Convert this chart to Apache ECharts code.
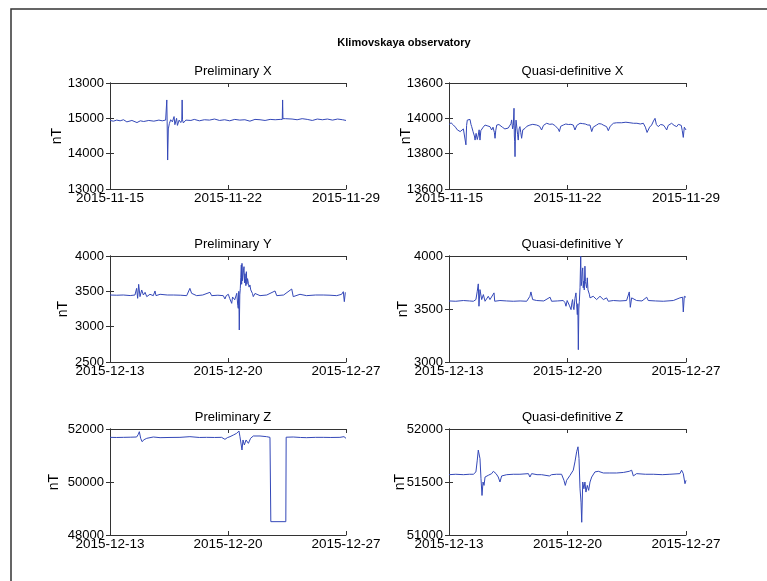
<!DOCTYPE html>
<html>
<head>
<meta charset="utf-8">
<script src="https://cdn.jsdelivr.net/npm/echarts@6/dist/echarts.min.js"></script>
<style>html,body{margin:0;padding:0;background:#fff}#c{width:767px;height:581px}</style>
</head>
<body>
<div id="c"></div>
<script>
// ---- Data (time in days from the first tick, value in nT) ----
var mainTitle = 'Klimovskaya observatory';
var plotTitles = ['Preliminary X', 'Quasi-definitive X', 'Preliminary Y', 'Quasi-definitive Y', 'Preliminary Z', 'Quasi-definitive Z'];
var novDates = ['2015-11-15', '2015-11-22', '2015-11-29'];
var decDates = ['2015-12-13', '2015-12-20', '2015-12-27'];

// y tick labels (bottom to top) as printed in the figure
var pxTicks = ['13000', '14000', '15000', '13000'];
var qxTicks = ['13600', '13800', '14000', '13600'];
var pyTicks = ['2500', '3000', '3500', '4000'];
var qyTicks = ['3000', '3500', '4000'];
var pzTicks = ['48000', '50000', '52000'];
var qzTicks = ['51000', '51500', '52000'];

// Preliminary X
var pxT = [0, 0.2, 0.4, 0.6, 0.8, 1.0, 1.1, 1.3, 1.6, 1.8, 2.0, 2.3, 2.6, 2.9, 3.1, 3.3, 3.35, 3.37, 3.39, 3.42, 3.46, 3.52, 3.6, 3.7, 3.8, 3.85, 3.95, 4.0, 4.1, 4.2, 4.26, 4.28, 4.30, 4.35, 4.5, 4.8, 5.0, 5.3, 5.6, 5.9, 6.2, 6.5, 6.8, 7.1, 7.4, 7.7, 8.0, 8.3, 8.6, 8.9, 9.2, 9.5, 9.8, 10.1, 10.22, 10.24, 10.26, 10.4, 10.8, 11.1, 11.4, 11.7, 12.0, 12.3, 12.6, 12.9, 13.2, 13.5, 13.8, 14.0];
var pxV = [14940, 14920, 14950, 14930, 14960, 14900, 14950, 14940, 14880, 14930, 14910, 14940, 14920, 14950, 14930, 14950, 14950, 15520, 14900, 13820, 14700, 14850, 14960, 14900, 15050, 14820, 15000, 14800, 14950, 14880, 14950, 15520, 14960, 14870, 14950, 14940, 14970, 14930, 14960, 14950, 14980, 14940, 14960, 14930, 14970, 14950, 14960, 14920, 14970, 14960, 14940, 14970, 14960, 14970, 14970, 15520, 14990, 14990, 14980, 14960, 14990, 14970, 14940, 14980, 14960, 14980, 14950, 14980, 14960, 14940];

// Quasi-definitive X
var qxT = [0, 0.12, 0.26, 0.38, 0.49, 0.58, 0.66, 0.75, 0.85, 0.95, 1.0, 1.04, 1.08, 1.16, 1.24, 1.30, 1.34, 1.42, 1.50, 1.54, 1.60, 1.67, 1.72, 1.78, 1.83, 1.88, 1.93, 2.02, 2.13, 2.25, 2.35, 2.42, 2.52, 2.60, 2.68, 2.72, 2.76, 2.82, 2.95, 3.05, 3.15, 3.21, 3.30, 3.41, 3.5, 3.6, 3.66, 3.70, 3.76, 3.80, 3.84, 3.86, 3.88, 3.90, 3.93, 3.96, 4.0, 4.05, 4.09, 4.14, 4.19, 4.24, 4.29, 4.36, 4.49, 4.6, 4.78, 4.95, 5.18, 5.35, 5.47, 5.58, 5.77, 5.95, 6.1, 6.25, 6.36, 6.45, 6.52, 6.6, 6.75, 6.9, 7.05, 7.2, 7.34, 7.44, 7.55, 7.74, 7.9, 8.05, 8.2, 8.33, 8.43, 8.52, 8.72, 8.85, 9.0, 9.15, 9.31, 9.41, 9.52, 9.71, 9.9, 10.2, 10.45, 10.69, 10.9, 11.1, 11.3, 11.48, 11.6, 11.7, 11.77, 11.85, 11.97, 12.08, 12.17, 12.25, 12.36, 12.5, 12.66, 12.76, 12.86, 12.95, 13.15, 13.3, 13.45, 13.55, 13.64, 13.72, 13.78, 13.84, 13.9, 14.0];
var qxV = [13965, 13975, 13962, 13950, 13935, 13945, 13925, 13935, 13940, 13930, 13850, 13960, 13990, 13980, 13994, 13965, 13953, 13925, 13900, 13877, 13915, 13880, 13900, 13935, 13877, 13930, 13925, 13950, 13962, 13958, 13965, 13953, 13934, 13950, 13920, 13887, 13930, 13962, 13965, 13960, 13950, 13953, 13940, 13934, 13945, 13943, 13970, 13991, 13940, 13960, 14057, 13900, 13870, 13783, 13940, 13990, 13991, 13910, 13877, 13940, 13953, 13920, 13887, 13935, 13943, 13955, 13962, 13966, 13962, 13955, 13934, 13960, 13972, 13966, 13968, 13960, 13962, 13940, 13925, 13955, 13962, 13968, 13965, 13966, 13962, 13934, 13960, 13972, 13970, 13968, 13962, 13962, 13925, 13950, 13962, 13970, 13968, 13960, 13953, 13930, 13955, 13972, 13975, 13975, 13978, 13975, 13972, 13972, 13968, 13972, 13950, 13920, 13911, 13950, 13962, 13985, 14000, 13965, 13953, 13965, 13962, 13950, 13934, 13960, 13972, 13960, 13953, 13966, 13975, 13960, 13930, 13892, 13950, 13934];

// Preliminary Y
var pyT = [0, 0.4, 0.79, 1.2, 1.48, 1.58, 1.64, 1.70, 1.78, 1.88, 1.98, 2.08, 2.18, 2.37, 2.57, 2.67, 2.73, 2.97, 3.4, 3.76, 4.2, 4.55, 4.74, 4.84, 5.14, 5.5, 5.93, 6.03, 6.4, 6.72, 6.82, 6.9, 7.02, 7.1, 7.22, 7.27, 7.32, 7.40, 7.47, 7.52, 7.55, 7.58, 7.61, 7.64, 7.67, 7.70, 7.73, 7.76, 7.79, 7.81, 7.83, 7.86, 7.89, 7.92, 7.95, 7.98, 8.01, 8.03, 8.06, 8.09, 8.12, 8.16, 8.21, 8.25, 8.30, 8.35, 8.40, 8.45, 8.50, 8.6, 8.70, 8.90, 9.3, 9.79, 9.89, 10.3, 10.78, 10.87, 11.27, 11.66, 12.2, 12.65, 13.05, 13.45, 13.74, 13.84, 13.90, 13.96, 14.0];
var pyV = [3448, 3445, 3448, 3440, 3448, 3542, 3401, 3599, 3425, 3519, 3448, 3486, 3425, 3458, 3439, 3505, 3439, 3458, 3448, 3448, 3445, 3439, 3542, 3472, 3439, 3448, 3486, 3439, 3445, 3439, 3392, 3440, 3458, 3400, 3330, 3420, 3425, 3380, 3354, 3472, 3472, 3300, 3259, 3500, 2953, 3450, 3542, 3700, 3873, 3600, 3896, 3650, 3637, 3800, 3849, 3620, 3750, 3684, 3580, 3778, 3600, 3680, 3613, 3560, 3590, 3520, 3495, 3470, 3425, 3470, 3458, 3439, 3448, 3505, 3439, 3448, 3533, 3425, 3458, 3439, 3448, 3448, 3445, 3439, 3458, 3495, 3354, 3486, 3486];

// Quasi-definitive Y
var qyT = [0, 0.4, 0.85, 1.2, 1.44, 1.59, 1.67, 1.73, 1.77, 1.83, 1.93, 2.03, 2.13, 2.32, 2.42, 2.66, 2.70, 3.01, 3.4, 3.80, 4.2, 4.59, 4.78, 4.84, 4.94, 5.18, 5.6, 5.97, 6.06, 6.4, 6.75, 6.85, 6.91, 6.98, 7.05, 7.12, 7.21, 7.26, 7.30, 7.34, 7.38, 7.44, 7.50, 7.54, 7.58, 7.61, 7.64, 7.67, 7.70, 7.74, 7.78, 7.81, 7.84, 7.87, 7.90, 7.93, 7.96, 7.99, 8.03, 8.06, 8.09, 8.13, 8.17, 8.21, 8.25, 8.29, 8.33, 8.40, 8.52, 8.72, 8.92, 9.12, 9.31, 9.41, 9.71, 10.1, 10.49, 10.65, 10.71, 10.79, 11.08, 11.4, 11.68, 11.77, 12.2, 12.66, 13.25, 13.64, 13.80, 13.84, 13.90, 14.0];
var qyV = [3576, 3573, 3580, 3576, 3573, 3589, 3668, 3737, 3526, 3683, 3589, 3636, 3573, 3620, 3589, 3652, 3573, 3580, 3576, 3573, 3576, 3573, 3620, 3661, 3589, 3580, 3576, 3611, 3573, 3576, 3580, 3560, 3526, 3580, 3573, 3530, 3494, 3560, 3589, 3520, 3494, 3600, 3652, 3540, 3447, 3550, 3116, 3500, 3573, 3700, 3998, 3720, 3762, 3850, 3888, 3700, 3762, 3680, 3904, 3760, 3731, 3700, 3794, 3680, 3668, 3640, 3605, 3620, 3620, 3589, 3620, 3589, 3605, 3573, 3580, 3576, 3580, 3661, 3516, 3605, 3580, 3576, 3611, 3580, 3576, 3573, 3580, 3605, 3611, 3472, 3620, 3611];

// Preliminary Z
var pzT = [0, 0.4, 0.79, 1.2, 1.58, 1.68, 1.74, 1.82, 1.90, 2.02, 2.18, 2.57, 2.97, 3.5, 4.15, 4.74, 4.84, 5.3, 5.73, 6.2, 6.62, 6.82, 6.96, 7.12, 7.32, 7.51, 7.65, 7.71, 7.77, 7.83, 7.89, 7.97, 8.07, 8.21, 8.34, 8.50, 8.90, 9.29, 9.49, 9.52, 9.54, 10.43, 10.45, 10.48, 10.87, 11.3, 11.66, 12.2, 12.65, 13.1, 13.64, 13.88, 14.0];
var pzV = [51685, 51680, 51685, 51690, 51698, 51799, 51899, 51648, 51522, 51597, 51648, 51698, 51673, 51680, 51685, 51711, 51648, 51680, 51685, 51680, 51685, 51610, 51673, 51711, 51773, 51836, 51924, 51711, 51773, 51207, 51585, 51396, 51585, 51459, 51648, 51736, 51736, 51711, 51685, 51680, 48503, 48503, 51690, 51698, 51698, 51680, 51673, 51685, 51685, 51680, 51685, 51711, 51648];

// Quasi-definitive Z
var qzT = [0, 0.4, 0.85, 1.2, 1.44, 1.59, 1.67, 1.73, 1.77, 1.83, 1.89, 1.95, 2.01, 2.07, 2.13, 2.32, 2.52, 2.62, 2.78, 2.91, 3.01, 3.11, 3.41, 3.8, 4.19, 4.69, 4.78, 4.88, 5.2, 5.47, 5.93, 6.06, 6.35, 6.65, 6.79, 6.87, 6.95, 7.15, 7.34, 7.44, 7.54, 7.62, 7.68, 7.74, 7.80, 7.84, 7.90, 7.97, 8.03, 8.09, 8.17, 8.25, 8.33, 8.43, 8.62, 8.82, 9.12, 9.5, 9.90, 10.3, 10.65, 10.79, 10.89, 11.08, 11.6, 12.07, 12.6, 13.05, 13.64, 13.74, 13.84, 13.94, 14.0];
var qzV = [51569, 51573, 51569, 51573, 51573, 51595, 51706, 51801, 51816, 51721, 51531, 51373, 51500, 51468, 51547, 51563, 51579, 51601, 51579, 51547, 51500, 51557, 51569, 51573, 51573, 51579, 51547, 51579, 51569, 51569, 51557, 51569, 51573, 51573, 51516, 51468, 51516, 51563, 51611, 51690, 51785, 51832, 51721, 51436, 51310, 51120, 51500, 51436, 51500, 51405, 51468, 51421, 51500, 51547, 51595, 51601, 51585, 51585, 51585, 51590, 51601, 51611, 51557, 51579, 51573, 51573, 51569, 51573, 51579, 51611, 51579, 51484, 51516];

// ---- Chart construction ----
var panels = [
  {t: pxT, v: pxV, ticks: pxTicks, min: 13000, max: 16000, step: 1000, dates: novDates},
  {t: qxT, v: qxV, ticks: qxTicks, min: 13600, max: 14200, step: 200, dates: novDates},
  {t: pyT, v: pyV, ticks: pyTicks, min: 2500, max: 4000, step: 500, dates: decDates},
  {t: qyT, v: qyV, ticks: qyTicks, min: 3000, max: 4000, step: 500, dates: decDates},
  {t: pzT, v: pzV, ticks: pzTicks, min: 48000, max: 52000, step: 2000, dates: decDates},
  {t: qzT, v: qzV, ticks: qzTicks, min: 51000, max: 52000, step: 500, dates: decDates}
];
var colLeft = [110, 449], colWidth = [236, 237];
var rowTop = [83, 256, 429], rowHeight = 106;
var nameGaps = [46, 36, 40, 39, 49, 42];

var FONT = 'Liberation Sans, Arial, sans-serif';
var axisColor = '#333';
var lineColor = '#3448b8';

var grids = [], xAxes = [], yAxes = [], series = [], titles = [];
titles.push({text: mainTitle, left: 399, top: 32, textAlign: 'center',
  textStyle: {fontFamily: FONT, fontSize: 11, fontWeight: 'bold', color: '#000'}});

panels.forEach(function (p, i) {
  var col = i % 2, row = Math.floor(i / 2);
  var left = colLeft[col], top = rowTop[row], w = colWidth[col];
  grids.push({left: left, top: top, width: w, height: rowHeight, show: false});
  titles.push({text: plotTitles[i], left: left + w / 2, top: top - 23, textAlign: 'center',
    textStyle: {fontFamily: FONT, fontSize: 13, fontWeight: 'normal', color: '#000'}});
  var dates = p.dates;
  var common = {
    type: 'value', gridIndex: i, min: 0, max: 14, interval: 7,
    axisLine: {show: true, lineStyle: {color: axisColor, width: 1}},
    axisTick: {show: true, inside: true, length: 4, lineStyle: {color: axisColor}},
    splitLine: {show: false}
  };
  xAxes.push(Object.assign({}, common, {position: 'bottom',
    axisLabel: {show: true, margin: 2, fontFamily: FONT, fontSize: 13.5, color: '#000',
      showMinLabel: true, showMaxLabel: true, hideOverlap: false,
      formatter: function (val) { return dates[Math.round(val / 7)]; }}}));
  xAxes.push(Object.assign({}, common, {position: 'top', axisLabel: {show: false}}));
  var ticks = p.ticks, mn = p.min, st = p.step;
  var ycommon = {
    type: 'value', gridIndex: i, min: p.min, max: p.max, interval: p.step,
    axisLine: {show: true, lineStyle: {color: axisColor, width: 1}},
    axisTick: {show: true, inside: true, length: 4, lineStyle: {color: axisColor}},
    splitLine: {show: false}
  };
  yAxes.push(Object.assign({}, ycommon, {position: 'left',
    name: 'nT', nameLocation: 'middle', nameRotate: 90, nameGap: nameGaps[i],
    nameMoveOverlap: false,
    nameTextStyle: {fontFamily: FONT, fontSize: 14, color: '#000'},
    axisLabel: {show: true, margin: 6, fontFamily: FONT, fontSize: 13, color: '#000',
      showMinLabel: true, showMaxLabel: true,
      formatter: function (val) { return ticks[Math.round((val - mn) / st)]; }}}));
  yAxes.push(Object.assign({}, ycommon, {position: 'right', axisLabel: {show: false}}));
  series.push({
    type: 'line', xAxisIndex: 2 * i, yAxisIndex: 2 * i, showSymbol: false, symbol: 'none',
    animation: false, clip: true,
    lineStyle: {color: lineColor, width: 1},
    data: p.t.map(function (t, k) { return [t, p.v[k]]; })
  });
});

var chart = echarts.init(document.getElementById('c'), null, {renderer: 'canvas'});
chart.setOption({
  backgroundColor: '#fff',
  animation: false,
  title: titles,
  grid: grids,
  xAxis: xAxes,
  yAxis: yAxes,
  series: series,
  graphic: [{
    type: 'polyline', silent: true,
    shape: {points: [[767, 9], [11, 9], [11, 581]]},
    style: {stroke: '#333', lineWidth: 1.5, fill: null}
  }]
});
</script>
</body>
</html>
